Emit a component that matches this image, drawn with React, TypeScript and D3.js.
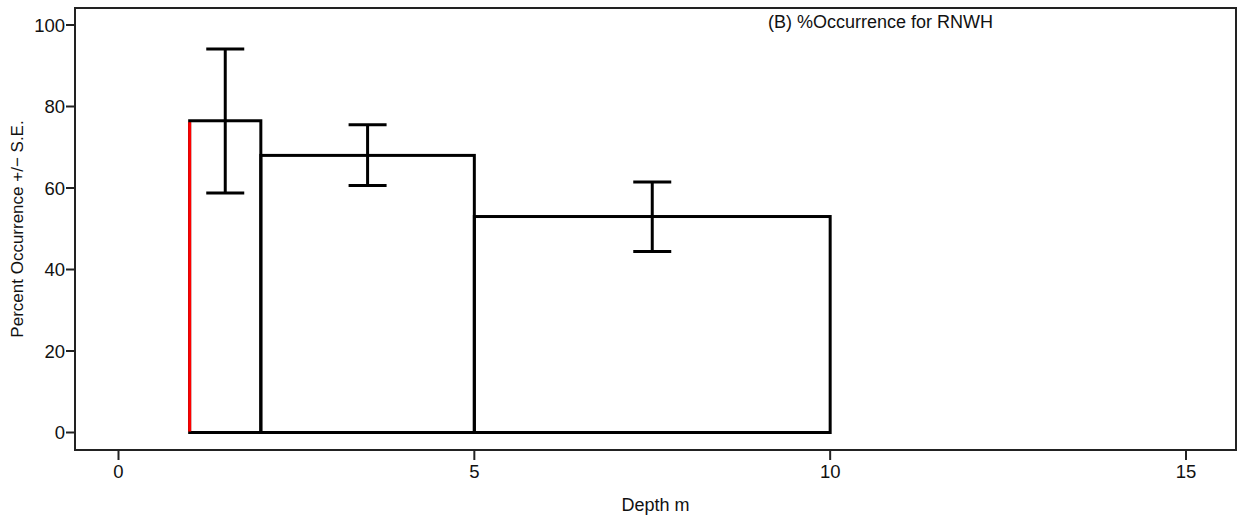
import React from "react";
import * as d3 from "d3";

// Depth bins (m) and mean percent occurrence with standard errors
const binStart = [1, 2, 5];
const binEnd = [2, 5, 10];
const occurrence = [76.5, 68, 53];
const seLow = [58.8, 60.6, 44.4];
const seHigh = [94.1, 75.5, 61.5];
const xTicks = [0, 5, 10, 15];
const yTicks = [0, 20, 40, 60, 80, 100];

const W = 1244;
const H = 518;
const box = { left: 75, top: 8, right: 1236, bottom: 450 };
const font = "'Liberation Sans', Arial, sans-serif";

export default function App() {
  const x = d3.scaleLinear().domain([0, 15]).range([118.5, 1186]);
  const y = d3.scaleLinear().domain([0, 100]).range([432.5, 25]);
  const capHalf = 19;

  return (
    <svg width={W} height={H} style={{ position: "absolute", left: 0, top: 0 }}>
      <rect x={0} y={0} width={W} height={H} fill="#fff" />
      {/* frame */}
      <rect
        x={box.left}
        y={box.top}
        width={box.right - box.left}
        height={box.bottom - box.top}
        fill="none"
        stroke="#222"
        strokeWidth={2}
      />
      {/* y axis */}
      {yTicks.map((t) => (
        <g key={"y" + t}>
          <line x1={box.left - 9} x2={box.left} y1={y(t)} y2={y(t)} stroke="#222" strokeWidth={2} />
          <text
            x={box.left - 10}
            y={y(t) + 6.5}
            textAnchor="end"
            fontFamily={font}
            fontSize={18.5}
            fill="#111"
          >
            {t}
          </text>
        </g>
      ))}
      {/* x axis */}
      {xTicks.map((t) => (
        <g key={"x" + t}>
          <line x1={x(t)} x2={x(t)} y1={box.bottom} y2={box.bottom + 10} stroke="#222" strokeWidth={2} />
          <text x={x(t)} y={box.bottom + 28} textAnchor="middle" fontFamily={font} fontSize={18.5} fill="#111">
            {t}
          </text>
        </g>
      ))}
      <text
        x={(box.left + box.right) / 2}
        y={511}
        textAnchor="middle"
        fontFamily={font}
        fontSize={18}
        fill="#111"
      >
        Depth m
      </text>
      <text
        transform={`translate(23, ${(box.top + box.bottom) / 2}) rotate(-90)`}
        textAnchor="middle"
        fontFamily={font}
        fontSize={17}
        fill="#111"
      >
        Percent Occurrence +/− S.E.
      </text>
      <text x={768} y={28} fontFamily={font} fontSize={18} fill="#111">
        (B) %Occurrence for RNWH
      </text>
      {/* bars as outlined steps */}
      {occurrence.map((v, i) => (
        <rect
          key={"b" + i}
          x={x(binStart[i])}
          y={y(v)}
          width={x(binEnd[i]) - x(binStart[i])}
          height={y(0) - y(v)}
          fill="none"
          stroke="#000"
          strokeWidth={3}
        />
      ))}
      <line
        x1={x(binStart[0])}
        x2={x(binStart[0])}
        y1={y(0) - 1}
        y2={y(occurrence[0]) + 1.5}
        stroke="#ff0000"
        strokeWidth={3}
      />
      {/* error bars */}
      {occurrence.map((_, i) => {
        const cx = x((binStart[i] + binEnd[i]) / 2);
        return (
          <g key={"e" + i} stroke="#000" strokeWidth={3}>
            <line x1={cx} x2={cx} y1={y(seLow[i])} y2={y(seHigh[i])} />
            <line x1={cx - capHalf} x2={cx + capHalf} y1={y(seLow[i])} y2={y(seLow[i])} />
            <line x1={cx - capHalf} x2={cx + capHalf} y1={y(seHigh[i])} y2={y(seHigh[i])} />
          </g>
        );
      })}
    </svg>
  );
}
